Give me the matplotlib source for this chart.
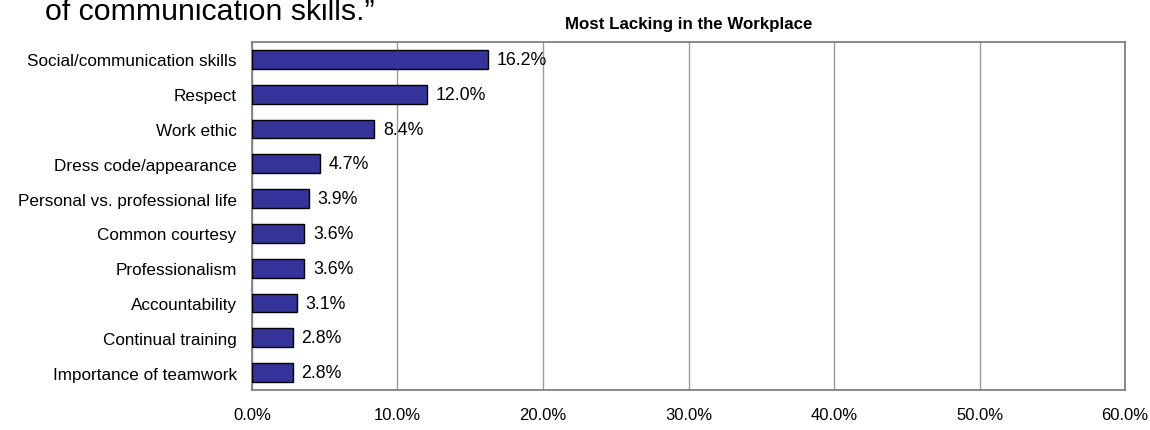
import matplotlib
matplotlib.use("Agg")
import matplotlib.pyplot as plt
import numpy as np

# --- Data ---
categories = [
    "Social/communication skills",
    "Respect",
    "Work ethic",
    "Dress code/appearance",
    "Personal vs. professional life",
    "Common courtesy",
    "Professionalism",
    "Accountability",
    "Continual training",
    "Importance of teamwork",
]
values = [16.2, 12.0, 8.4, 4.7, 3.9, 3.6, 3.6, 3.1, 2.8, 2.8]
xticks = [0, 10, 20, 30, 40, 50, 60]

plt.rcParams['font.family'] = ['Liberation Sans', 'DejaVu Sans']

fig = plt.figure(figsize=(11.5, 4.31), dpi=100)
ax = fig.add_axes([0.2191, 0.0928, 0.7592, 0.8074])

y = np.arange(len(categories))
ax.barh(y, values, height=0.54, color='#333399', edgecolor='black', linewidth=1.0, zorder=3)
for yi, v in zip(y, values):
    ax.text(v + 0.6, yi, f"{v:.1f}%", va='center', ha='left', fontsize=12.8, zorder=4)

ax.set_xlim(0, 60)
ax.set_ylim(len(categories) - 0.5, -0.5)
ax.set_yticks(y)
ax.set_yticklabels(categories, fontsize=12.3)
ax.set_xticks(xticks)
ax.set_xticklabels([f"{t:.1f}%" for t in xticks], fontsize=12)
ax.tick_params(axis='both', length=0)
ax.tick_params(axis='x', pad=12)
ax.tick_params(axis='y', pad=11)

ax.grid(axis='x', color='#999999', linewidth=1.0, zorder=0)
for s in ax.spines.values():
    s.set_color('#808080')
    s.set_linewidth(1.3)

ax.set_title("Most Lacking in the Workplace", fontsize=12.2, fontweight='bold', pad=10)

# cropped slide text at the top
fig.text(45 / 1150, 1 - 20 / 431, "of communication skills.\u201d", fontsize=21.8,
         ha='left', va='baseline')

fig.savefig("out.png", dpi=100)
